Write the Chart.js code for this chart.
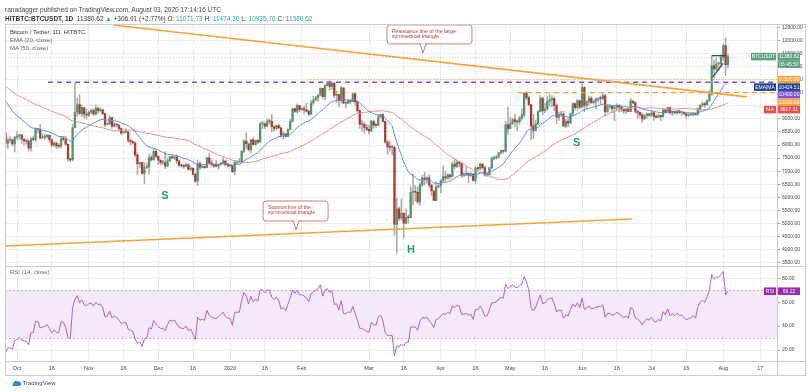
<!DOCTYPE html>
<html>
<head>
<meta charset="utf-8">
<title>BTCUSDT 1D</title>
<script src="https://cdn.jsdelivr.net/npm/chart.js@4.4.1/dist/chart.umd.min.js"></script>
<style>
html, body { margin: 0; padding: 0; background: #fff; }
body { position: relative; width: 808px; height: 392px; overflow: hidden; font-family: 'Liberation Sans', Arial, sans-serif; }
canvas { position: absolute; left: 0; top: 0; }
.t { position: absolute; white-space: nowrap; line-height: 8px; }
.up { color: #26a69a; }
</style>
</head>
<body>
<canvas id="btc" width="808" height="392"></canvas>
<div class="t" style="left:5px;top:6px;font-size:6.5px;color:#444">ranadagger published on TradingView.com, August 03, 2020 17:14:16 UTC</div>
<div class="t" style="left:5px;top:15px;font-size:6.5px;color:#333"><b>HITBTC:BTCUSDT, 1D</b>&nbsp; 11380.62 <span class="up">&#9650;</span> +306.91 (+2.77%) O: <span class="up">11071.73</span> H: <span class="up">11474.30</span> L: <span class="up">10935.76</span> C: <span class="up">11380.62</span></div>
<div class="t" style="left:10px;top:28px;font-size:6px;color:#333">Bitcoin / Tether, 1D, HITBTC</div>
<div class="t" style="left:10px;top:36px;font-size:6px;color:#666">EMA (20, close)</div>
<div class="t" style="left:10px;top:44px;font-size:6px;color:#666">MA (50, close)</div>
<div class="t" style="left:10px;top:268px;font-size:6px;color:#666">RSI (14, close)</div>
<div class="t" style="left:12px;top:379px;font-size:6px;color:#3b4a66">
  <svg width="9" height="6" viewBox="0 0 9 6" style="vertical-align:-1px"><path d="M1.5 6 A1.6 1.6 0 0 1 1.6 2.9 A2.2 2.2 0 0 1 5.6 1.6 A1.8 1.8 0 0 1 7.6 6 Z" fill="#2e8be6"/></svg>
  TradingView</div>
<script>
// closes used only to warm up the EMA / MA / RSI (Aug 8 - Sep 25, 2019)
const warmupCloses = [
  11980, 11850, 11300, 11540, 11390, 10860, 10020, 10310, 10360, 10230, 10340, 10920,
  10760, 10130, 10110, 10400, 10140, 10140, 10370, 10190, 9720, 9480, 9580, 9600,
  9760, 10380, 10620, 10580, 10570, 10320, 10480, 10400, 10340, 10110, 10160, 10410,
  10360, 10360, 10310, 10260, 10190, 10160, 10270, 10180, 9980, 10020, 9690, 8530, 8430
];

// visible daily candles, Sep 26 2019 - Aug 3 2020 (day 0 = Oct 1 2019)
const firstDay = -5;
const closes = [
  8060, 8190, 8200, 8040, 8300,
  8340, 8390, 8230, 8160, 8150, 7880, 8220, 8210, 8590, 8590, 8270, 8300, 8320, 8370, 8200, 8000,
  8080, 7960, 7950, 8240, 8220, 8030, 7470, 7430, 8660, 9260, 9550, 9200, 9430, 9180, 9140,
  9260, 9320, 9180, 9400, 9310, 9340, 9200, 8780, 8810, 9050, 8720, 8800, 8760, 8630, 8460,
  8490, 8500, 8180, 8120, 8080, 7620, 7280, 7330, 6910, 7140, 7160, 7520, 7430, 7760, 7570,
  7420, 7320, 7320, 7200, 7400, 7550, 7510, 7540, 7390, 7240, 7200, 7190, 7250, 7070, 7110, 6880,
  6620, 7280, 7150, 7190, 7140, 7510, 7320, 7250, 7200, 7190, 7250, 7310, 7390, 7250, 7200,
  7200, 6980, 7340, 7350, 7350, 7760, 8150, 8050, 7820, 8200, 8020, 8180, 8110, 8810, 8810, 8720,
  8900, 8910, 8700, 8630, 8740, 8660, 8380, 8430, 8330, 8600, 8900, 9390, 9290, 9510, 9350,
  9390, 9340, 9290, 9180, 9610, 9730, 9800, 9900, 10170, 9850, 10270, 10350, 10240, 10360, 9900,
  9930, 9700, 10180, 9600, 9600, 9690, 9660, 9960, 9660, 9310, 8790, 8790, 8670, 8600,
  8530, 8910, 8760, 8750, 9080, 9160, 8900, 8110, 7930, 7910, 7910, 4970, 5560, 5200, 5390, 5010,
  5230, 5220, 6190, 6200, 6190, 5830, 6480, 6740, 6680, 6740, 6470, 6250, 5880, 6400, 6440,
  6640, 6790, 6730, 6860, 6790, 7270, 7180, 7340, 7300, 6860, 6890, 6920, 6850, 6880, 6640,
  7120, 7100, 7270, 7130, 6850, 6860, 7130, 7480, 7510, 7540, 7700, 7790, 7760, 8780, 8620,
  8830, 8970, 8900, 8880, 9030, 9150, 9990, 9810, 9540, 8730, 8560, 8810, 9270, 9790, 9310, 9380,
  9670, 9730, 9780, 9510, 9060, 9170, 9180, 8720, 8900, 8840, 9200, 9580, 9430, 9700, 9450,
  10200, 9520, 9660, 9790, 9620, 9670, 9750, 9780, 9770, 9880, 9270, 9470, 9480, 9390, 9430,
  9520, 9460, 9380, 9300, 9360, 9280, 9680, 9610, 9290, 9240, 9160, 9000, 9120, 9190, 9140,
  9230, 9090, 9060, 9130, 9080, 9340, 9250, 9430, 9230, 9290, 9230, 9300, 9240, 9250, 9190, 9130,
  9150, 9170, 9210, 9160, 9390, 9520, 9580, 9540, 9700, 9930, 11030, 10910, 11100, 11110, 11350,
  11800, 11071.73, 11380.62
];
const highs = [
  8470, 8260, 8320, 8230, 8330,
  8500, 8400, 8400, 8230, 8190, 8170, 8290, 8340, 8660, 8640, 8790, 8420, 8410, 8400, 8400, 8200,
  8120, 8110, 8050, 8290, 8320, 8320, 8040, 7490, 8800, 10370, 9800, 9930, 9530, 9440, 9370,
  9300, 9370, 9380, 9530, 9460, 9430, 9370, 9220, 8860, 9130, 9060, 8870, 8820, 8780, 8660,
  8520, 8630, 8510, 8200, 8180, 8120, 7700, 7350, 7340, 7330, 7320, 7650, 7610, 7860, 7810,
  7570, 7430, 7410, 7750, 7490, 7570, 7630, 7570, 7620, 7400, 7270, 7240, 7300, 7260, 7170, 7130,
  6930, 7420, 7360, 7210, 7200, 7530, 7670, 7420, 7270, 7420, 7270, 7350, 7520, 7410, 7310,
  7250, 7220, 7400, 7390, 7490, 7800, 8200, 8460, 8050, 8220, 8290, 8190, 8200, 8880, 8900, 8850,
  9000, 9000, 9170, 8730, 8760, 8790, 8670, 8520, 8440, 8620, 8980, 9400, 9420, 9570, 9520,
  9440, 9480, 9600, 9340, 9720, 9860, 9860, 9950, 10180, 10170, 10300, 10440, 10500, 10390, 10380,
  10050, 9960, 10250, 10200, 9640, 9760, 9700, 9990, 10010, 9660, 9370, 8950, 8890, 8790,
  8750, 8950, 8930, 8830, 9140, 9180, 9200, 8910, 8180, 8140, 7990, 7960, 5960, 5640, 5940, 5400,
  5550, 5330, 6400, 6900, 6450, 6400, 6560, 6840, 6960, 6790, 6870, 6480, 6260, 6600, 6520,
  6700, 7200, 7000, 6900, 6860, 7350, 7460, 7410, 7360, 7320, 6940, 7170, 6920, 6970, 6930,
  7190, 7150, 7310, 7290, 7200, 6950, 7150, 7550, 7580, 7600, 7720, 7820, 7800, 8900, 9450,
  9050, 9020, 9180, 8950, 9100, 9380, 10000, 10040, 9880, 9560, 9160, 8960, 9320, 9890, 9820, 9590,
  9880, 9950, 9890, 9830, 9570, 9270, 9300, 9300, 8980, 9010, 9220, 9620, 9610, 9740, 9700,
  10380, 10230, 9690, 9880, 9850, 9730, 9800, 9800, 9880, 9960, 9940, 9540, 9490, 9490, 9490,
  9580, 9550, 9480, 9390, 9400, 9420, 9780, 9690, 9670, 9320, 9270, 9200, 9180, 9230, 9200,
  9300, 9270, 9130, 9180, 9140, 9360, 9360, 9450, 9440, 9310, 9300, 9340, 9340, 9280, 9270, 9210,
  9190, 9200, 9230, 9220, 9420, 9540, 9650, 9640, 9730, 10100, 11400, 11260, 11330, 11170, 11450,
  11880, 12100, 11474.30
];
const lows = [
  7900, 7870, 8080, 7960, 7730,
  8190, 8220, 8070, 8000, 8030, 7790, 7760, 8150, 8120, 8460, 8230, 8260, 8190, 8260, 8100, 7930,
  7940, 7850, 7880, 7880, 8160, 8000, 7370, 7360, 7400, 8660, 9100, 9150, 9080, 9040, 8990,
  9080, 9200, 9120, 9150, 9210, 9260, 9150, 8700, 8760, 8770, 8630, 8680, 8690, 8570, 8400,
  8440, 8450, 8090, 8000, 8030, 7540, 6860, 7140, 6880, 6530, 7090, 6880, 7380, 7420, 7520,
  7250, 7240, 7250, 7100, 7170, 7360, 7480, 7440, 7300, 7170, 7150, 7100, 7180, 7040, 7030, 6860,
  6560, 6450, 7050, 7110, 7100, 7120, 7270, 7160, 7130, 7160, 7080, 7240, 7300, 7220, 7160,
  7170, 6940, 6870, 7270, 7310, 7340, 7700, 7870, 7760, 7690, 8000, 7980, 8060, 8100, 8620, 8620,
  8690, 8800, 8500, 8520, 8580, 8620, 8300, 8230, 8290, 8310, 8580, 8880, 9250, 9210, 9260,
  9320, 9190, 9250, 9120, 9170, 9550, 9700, 9660, 9880, 9760, 9720, 10260, 10100, 10130, 9810,
  9640, 9460, 9610, 9580, 9420, 9570, 9580, 9650, 9520, 9250, 8630, 8530, 8450, 8550,
  8410, 8500, 8650, 8670, 8740, 9020, 8880, 8060, 7640, 7760, 7600, 4550, 3850, 5100, 5120, 4450,
  4980, 5020, 5220, 5700, 5860, 5750, 5690, 6420, 6480, 6540, 6380, 6060, 5870, 5860, 6350,
  6170, 6590, 6600, 6680, 6700, 6780, 7090, 7140, 7160, 6760, 6780, 6850, 6560, 6800, 6620,
  6530, 7010, 7050, 7080, 6810, 6800, 6850, 7060, 7430, 7460, 7500, 7650, 7680, 7730, 8400,
  8620, 8760, 8700, 8540, 8770, 8940, 9060, 9720, 9500, 8200, 8250, 8540, 8780, 9260, 9150, 9230,
  9330, 9480, 9470, 9310, 8820, 8940, 9080, 8700, 8650, 8700, 8820, 9110, 9340, 9330, 9400,
  9420, 9270, 9390, 9530, 9590, 9570, 9380, 9640, 9570, 9720, 9090, 9250, 9390, 9250, 8930,
  9350, 9260, 9280, 9210, 9200, 9260, 9280, 9580, 9210, 9020, 9050, 8860, 8970, 9030, 9090,
  9090, 8940, 9030, 9050, 8920, 9060, 9210, 9230, 9180, 9120, 9190, 9170, 9200, 9120, 9170, 9010,
  9090, 9120, 9110, 9140, 9150, 9290, 9460, 9440, 9530, 9650, 9900, 10560, 10840, 10840, 10990,
  11220, 10650, 10935.76
];

// last values printed on the price scale
const emaLast = 10424.51;
const maLast = 9617.31;
const rsiLast = 69.22;

const timeTickDays = [0, 15, 31, 46, 61, 76, 92, 107, 123, 152, 167, 183, 198, 213, 228, 244, 259, 274, 289, 305, 321];
const timeTickLabels = ['Oct', '16', 'Nov', '16', 'Dec', '16', '2020', '16', 'Feb', 'Mar', '16', 'Apr', '16', 'May', '16', 'Jun', '16', 'Jul', '16', 'Aug', '17'];
const priceTicks = [3500, 4000, 4500, 5000, 5500, 6000, 6500, 7000, 7500, 8000, 8500, 9000, 9500, 10000, 10500, 11000, 11500, 12000, 12500];
const rsiTicks = [20, 40, 60, 80];

// drawings on the chart, in (day, price) units
const resistanceLine = [{ x: 41.5, y: 12590 }, { x: 315.2, y: 9840 }];
const supportLine = [{ x: -5.2, y: 4140 }, { x: 265.5, y: 5170 }];
const level10400 = [{ x: 13.4, y: 10400 }, { x: 328.2, y: 10400 }];
const level10500 = [{ x: 125.6, y: 10500 }, { x: 328.2, y: 10500 }];
const level10000 = [{ x: 216.3, y: 10000 }, { x: 328.2, y: 10000 }];
const flagTop = [{ x: 300, y: 11415 }, { x: 306.1, y: 11415 }];
const flagRise = [{ x: 300.6, y: 10612 }, { x: 304.9, y: 11122 }];

const textMarks = [
    { text: 'S', day: 63.9, price: 6050 },
    { text: 'S', day: 241.7, price: 8065 },
    { text: 'H', day: 170.1, price: 3985 }
];
const callouts = [
    { lines: ['Resistance line of the large', 'symmetrical triangle'], day: 175.3, price: 11520, box: [-36, 49, -28, -9] },
    { lines: ['Support line of the', 'symmetrical triangle'], day: 120.5, price: 4750, box: [-33, 32, -29, -9] }
];

const xMin = -5.2, xMax = 328.2;
const priceMin = 3373, priceMax = 12627;
const rsiMin = 10.8, rsiMax = 90.3;

const upColor = '#4a9a6c';
const downColor = '#b6352f';
const wickColor = '#a9a9a9';
const gridColor = '#ebedf0';
const fontFamily = "'Liberation Sans', Arial, sans-serif";

// indicators
const allCloses = warmupCloses.concat(closes);
const offset = warmupCloses.length;
const opens = closes.map((c, i) => allCloses[offset + i - 1]);

function ema(src, len) {
    const k = 2 / (len + 1);
    const out = [];
    let prev = null;
    for (let i = 0; i < src.length; i++) {
        if (i < len - 1) { out.push(null); continue; }
        if (prev === null) {
            prev = src.slice(0, len).reduce((a, b) => a + b, 0) / len;
        } else {
            prev = src[i] * k + prev * (1 - k);
        }
        out.push(prev);
    }
    return out;
}

function sma(src, len) {
    return src.map((v, i) => {
        if (i < len - 1) return null;
        let s = 0;
        for (let j = i - len + 1; j <= i; j++) s += src[j];
        return s / len;
    });
}

function rsi(src, len) {
    const out = [null];
    let avgGain = 0, avgLoss = 0;
    for (let i = 1; i < src.length; i++) {
        const ch = src[i] - src[i - 1];
        const g = Math.max(ch, 0), l = Math.max(-ch, 0);
        if (i <= len) {
            avgGain += g / len;
            avgLoss += l / len;
            out.push(i === len ? 100 - 100 / (1 + avgGain / avgLoss) : null);
        } else {
            avgGain = (avgGain * (len - 1) + g) / len;
            avgLoss = (avgLoss * (len - 1) + l) / len;
            out.push(avgLoss === 0 ? 100 : 100 - 100 / (1 + avgGain / avgLoss));
        }
    }
    return out;
}

const ema20 = ema(allCloses, 20);
const ma50 = sma(allCloses, 50);
const rsi14 = rsi(allCloses, 14);

const day = i => firstDay + i;
const wickData = closes.map((c, i) => ({ x: day(i), y: [lows[i], highs[i]] }));
const bodyData = closes.map((c, i) => ({ x: day(i), y: [opens[i], c] }));
const bodyColors = closes.map((c, i) => c >= opens[i] ? upColor : downColor);
const emaData = closes.map((c, i) => ({ x: day(i), y: ema20[offset + i] }));
const maData = closes.map((c, i) => ({ x: day(i), y: ma50[offset + i] }));
const rsiData = closes.map((c, i) => ({ x: day(i), y: rsi14[offset + i] }));

function lineSet(data, color, width, dash, order, axis) {
    return {
        type: 'line', data: data, borderColor: color, borderWidth: width, borderDash: dash || [],
        pointRadius: 0, tension: 0, fill: false, order: order, yAxisID: axis || 'y'
    };
}

// RSI band, price line, frame
const panePlugin = {
    id: 'panes',
    beforeDatasetsDraw(chart) {
        const { ctx, chartArea: a, scales } = chart;
        const r = scales.rsi;
        const y70 = r.getPixelForValue(70), y30 = r.getPixelForValue(30);
        ctx.save();
        ctx.fillStyle = '#f4e9fb';
        ctx.fillRect(a.left, y70, a.right - a.left, y30 - y70);
        ctx.strokeStyle = '#c7aed6';
        ctx.lineWidth = 1;
        ctx.setLineDash([2, 2]);
        [y70, y30].forEach(y => {
            ctx.beginPath();
            ctx.moveTo(a.left, Math.round(y) + 0.5);
            ctx.lineTo(a.right, Math.round(y) + 0.5);
            ctx.stroke();
        });
        const yl = scales.y.getPixelForValue(closes[closes.length - 1]);
        ctx.strokeStyle = 'rgba(90,160,124,0.45)';
        ctx.setLineDash([1, 2]);
        ctx.beginPath();
        ctx.moveTo(a.left, Math.round(yl) + 0.5);
        ctx.lineTo(a.right, Math.round(yl) + 0.5);
        ctx.stroke();
        ctx.restore();
    },
    afterDraw(chart) {
        const { ctx, chartArea: a, scales } = chart;
        ctx.save();
        ctx.strokeStyle = '#c9ccd1';
        ctx.lineWidth = 1;
        ctx.strokeRect(5.5, 24.5, 800, 351);
        const ys = Math.round(scales.y.bottom) + 0.5;
        const yb = Math.round(a.bottom) + 0.5;
        ctx.beginPath();
        ctx.moveTo(5, ys); ctx.lineTo(806, ys);
        ctx.moveTo(5, yb); ctx.lineTo(806, yb);
        ctx.moveTo(Math.round(a.right) + 0.5, 24); ctx.lineTo(Math.round(a.right) + 0.5, 376);
        ctx.stroke();
        ctx.restore();
    }
};

// S / H marks and the two callouts
const notePlugin = {
    id: 'notes',
    afterDatasetsDraw(chart) {
        const { ctx, scales } = chart;
        ctx.save();
        ctx.font = 'bold 11px ' + fontFamily;
        ctx.fillStyle = '#1f9a88';
        ctx.textAlign = 'center';
        ctx.textBaseline = 'middle';
        textMarks.forEach(m => {
            ctx.fillText(m.text, scales.x.getPixelForValue(m.day), scales.y.getPixelForValue(m.price));
        });

        ctx.font = '5.3px ' + fontFamily;
        ctx.textAlign = 'left';
        callouts.forEach(c => {
            const tx = scales.x.getPixelForValue(c.day);
            const ty = scales.y.getPixelForValue(c.price);
            const l = tx + c.box[0], r = tx + c.box[1], t = ty + c.box[2], b = ty + c.box[3];
            ctx.beginPath();
            ctx.roundRect(l, t, r - l, b - t, 3);
            ctx.fillStyle = '#fff';
            ctx.fill();
            ctx.strokeStyle = '#c65757';
            ctx.lineWidth = 0.8;
            ctx.stroke();
            ctx.beginPath();
            ctx.moveTo(tx - 3, b - 0.5);
            ctx.lineTo(tx, ty);
            ctx.lineTo(tx + 3, b - 0.5);
            ctx.fill();
            ctx.stroke();
            ctx.fillStyle = '#b83a3a';
            c.lines.forEach((s, k) => ctx.fillText(s, l + 5, t + 6.5 + k * 5));
        });
        ctx.restore();
    }
};

// value tags on the right price scale
const tagPlugin = {
    id: 'tags',
    afterDraw(chart) {
        const { ctx, chartArea: a, scales } = chart;
        const h = 7.5, vx = a.right + 1, vw = 22;
        const tags = [
            { v: closes[closes.length - 1], text: closes[closes.length - 1].toFixed(2), bg: '#5aa07c', tag: 'BTCUSDT', tw: 25, sub: '06:45:50' },
            { v: 10500, text: '10500.00', bg: '#f5a238' },
            { v: emaLast, text: emaLast.toFixed(2), bg: '#1d3f8f', tag: 'EMA|MA', tw: 22 },
            { v: 10400, text: '10400.00', bg: '#7b4fe6' },
            { v: 10000, text: '10000.00', bg: '#f5a238' },
            { v: maLast, text: maLast.toFixed(2), bg: '#ef4a4a', tag: 'MA', tw: 12 }
        ];
        ctx.save();
        ctx.font = '5px ' + fontFamily;
        ctx.textAlign = 'center';
        ctx.textBaseline = 'middle';
        let prev = -Infinity;
        const draw = (t, y) => {
            ctx.fillStyle = t.bg;
            ctx.fillRect(vx, y - h / 2, vw, h);
            ctx.fillStyle = '#fff';
            ctx.fillText(t.text, vx + vw / 2, y + 0.3);
            if (t.tag) {
                ctx.fillStyle = t.bg;
                ctx.fillRect(a.right - 1 - t.tw, y - h / 2, t.tw, h);
                ctx.fillStyle = '#fff';
                ctx.fillText(t.tag, a.right - 1 - t.tw / 2, y + 0.3);
            }
            if (t.sub) {
                ctx.fillStyle = t.bg;
                ctx.fillRect(vx, y + h / 2, vw, h);
                ctx.fillStyle = '#fff';
                ctx.fillText(t.sub, vx + vw / 2, y + h + 0.3);
            }
        };
        tags.forEach(t => {
            let y = scales.y.getPixelForValue(t.v);
            y = Math.max(y, prev + h);
            draw(t, y);
            prev = y + (t.sub ? h : 0);
        });
        draw({ text: rsiLast.toFixed(2), bg: '#9c27b0', tag: 'RSI', tw: 12 }, scales.rsi.getPixelForValue(rsiLast));
        ctx.restore();
    }
};

const config = {
    type: 'line',
    data: {
        datasets: [
            lineSet(resistanceLine, '#f7a23c', 1.6, null, 0),
            lineSet(supportLine, '#f7a23c', 1.6, null, 0),
            lineSet(level10400, '#7b4fe6', 1.3, [5, 4], 0),
            lineSet(level10500, '#f5a238', 1, [1, 2], 0),
            lineSet(level10000, '#f5a238', 1.3, [5, 4], 0),
            lineSet(flagTop, '#1d3f8f', 1.3, null, 0),
            lineSet(flagRise, '#1d3f8f', 1.1, null, 0),
            lineSet(emaData, '#5a8ee0', 1, null, 1),
            lineSet(maData, '#f38a84', 1, null, 1),
            lineSet(rsiData, '#ad62cc', 1, null, 1, 'rsi'),
            {
                type: 'bar', data: bodyData, backgroundColor: bodyColors, barThickness: 1.6,
                grouped: false, minBarLength: 1, borderWidth: 0, order: 2, yAxisID: 'y'
            },
            {
                type: 'bar', data: wickData, backgroundColor: wickColor, barThickness: 0.9,
                grouped: false, borderWidth: 0, order: 3, yAxisID: 'y'
            }
        ]
    },
    plugins: [panePlugin, notePlugin, tagPlugin],
    options: {
        responsive: false,
        animation: false,
        events: [],
        layout: { padding: { left: 5, right: 0, top: 24, bottom: 17 } },
        plugins: { legend: { display: false }, tooltip: { enabled: false } },
        scales: {
            x: {
                type: 'linear', min: xMin, max: xMax, offset: false,
                grid: { color: gridColor, drawTicks: false, offset: false },
                border: { display: false },
                ticks: {
                    autoSkip: false, maxRotation: 0, padding: 4, color: '#444',
                    font: { size: 5.5, family: fontFamily },
                    callback: (v, i) => timeTickLabels[i]
                },
                afterBuildTicks: s => { s.ticks = timeTickDays.map(v => ({ value: v })); },
                afterFit: s => { s.height = 14; }
            },
            y: {
                type: 'linear', position: 'right', stack: 'panes', stackWeight: 242,
                min: priceMin, max: priceMax,
                grid: { color: gridColor, tickLength: 3, tickColor: '#999' },
                border: { display: false },
                ticks: { autoSkip: false, padding: 2, color: '#444', font: { size: 5, family: fontFamily }, callback: v => v.toFixed(2) },
                afterBuildTicks: s => { s.ticks = priceTicks.map(v => ({ value: v })); },
                afterFit: s => { s.width = 31; }
            },
            rsi: {
                type: 'linear', position: 'right', stack: 'panes', stackWeight: 95,
                min: rsiMin, max: rsiMax,
                grid: { color: gridColor, tickLength: 3, tickColor: '#999' },
                border: { display: false },
                ticks: { autoSkip: false, padding: 2, color: '#444', font: { size: 5, family: fontFamily }, callback: v => v.toFixed(2) },
                afterBuildTicks: s => { s.ticks = rsiTicks.map(v => ({ value: v })); },
                afterFit: s => { s.width = 31; }
            }
        }
    }
};

const chart = new Chart(document.getElementById('btc'), config);
</script>
</body>
</html>
